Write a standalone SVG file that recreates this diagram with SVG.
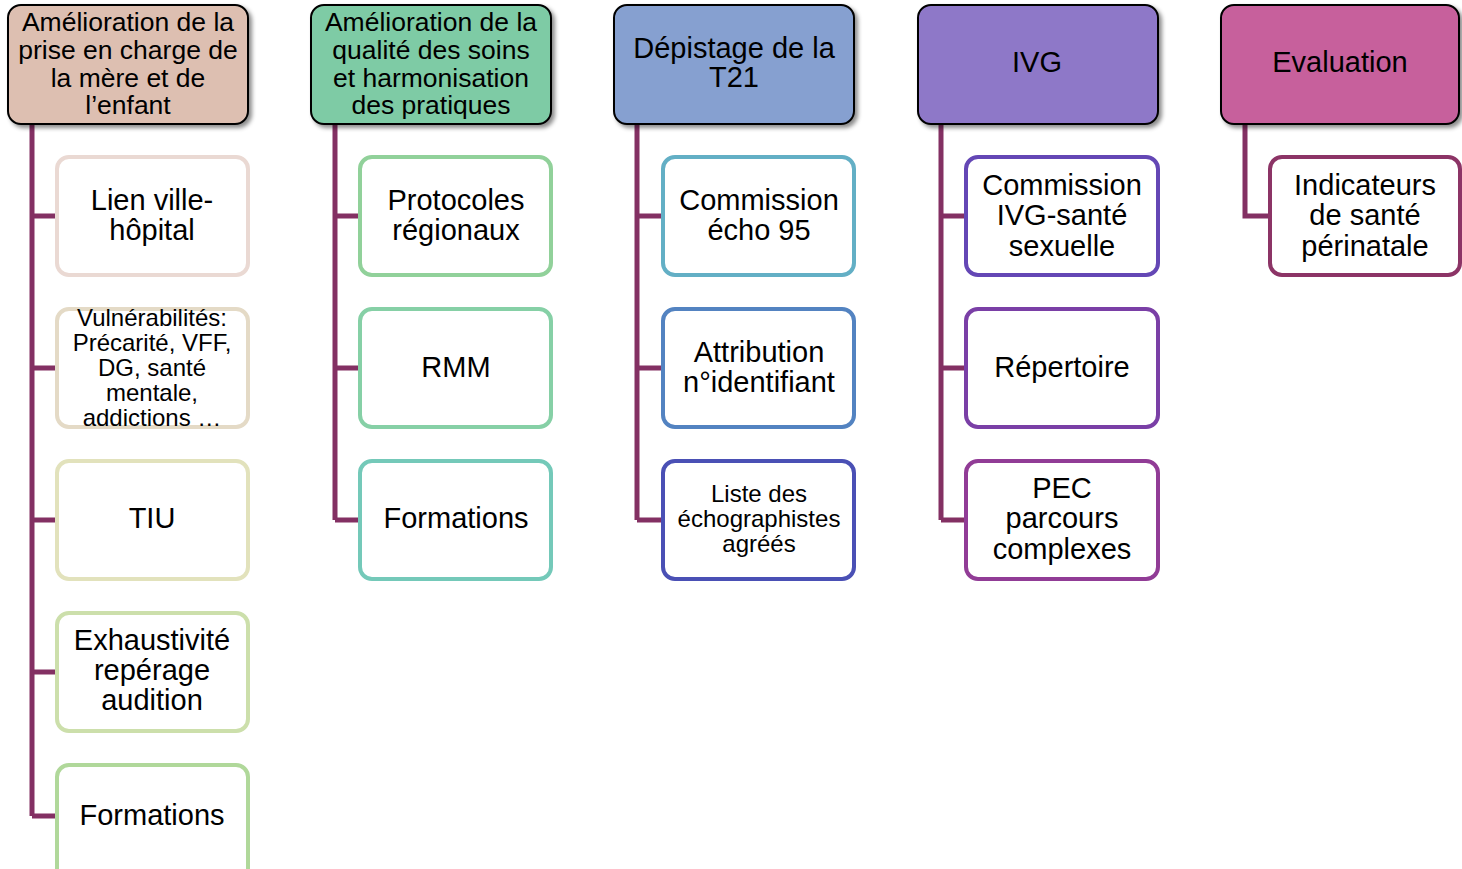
<svg xmlns="http://www.w3.org/2000/svg" width="1462" height="869" viewBox="0 0 1462 869">
<defs>
<filter id="sh" x="-10%" y="-10%" width="125%" height="130%">
<feDropShadow dx="3" dy="3" stdDeviation="2" flood-color="#000" flood-opacity="0.45"/>
</filter>
<style>
.hd{stroke:#000;stroke-width:2;filter:url(#sh)}
.ch{fill:#fff;stroke-width:4}
.cn{fill:none;stroke:#833063;stroke-width:5;stroke-linejoin:miter}
text{font-family:"Liberation Sans",Arial,sans-serif;fill:#000;text-anchor:middle}
.h1{font-size:26.5px}
.h2{font-size:29px}
.c{font-size:29px}
.s{font-size:24px}
</style>
</defs>
<rect width="1462" height="869" fill="#fff"/>
<g id="connectors">
<path class="cn" d="M32 125 V816 M32 216 H55 M32 368 H55 M32 520 H55 M32 672 H55 M32 816 H55"/>
<path class="cn" d="M335 125 V520 M335 216 H358 M335 368 H358 M335 520 H358"/>
<path class="cn" d="M637 125 V520 M637 216 H661 M637 368 H661 M637 520 H661"/>
<path class="cn" d="M941 125 V520 M941 216 H964 M941 368 H964 M941 520 H964"/>
<path class="cn" d="M1245 125 V216 H1268"/>
</g>
<g id="h1"><rect class="hd" x="8" y="5" width="240" height="119" rx="13" fill="#DDBFB1"/>
<text class="h1"><tspan x="128" y="31">Amélioration de la</tspan><tspan x="128" y="59">prise en charge de</tspan><tspan x="128" y="87">la mère et de</tspan><tspan x="128" y="114">l’enfant</tspan></text></g>
<g id="h2"><rect class="hd" x="311" y="5" width="240" height="119" rx="13" fill="#7ECBA5"/>
<text class="h1"><tspan x="431" y="31">Amélioration de la</tspan><tspan x="431" y="59">qualité des soins</tspan><tspan x="431" y="87">et harmonisation</tspan><tspan x="431" y="114">des pratiques</tspan></text></g>
<g id="h3"><rect class="hd" x="614" y="5" width="240" height="119" rx="13" fill="#86A0D0"/>
<text class="h2"><tspan x="734" y="58">Dépistage de la</tspan><tspan x="734" y="87">T21</tspan></text></g>
<g id="h4"><rect class="hd" x="918" y="5" width="240" height="119" rx="13" fill="#8E78C8"/>
<text class="h2"><tspan x="1037" y="72">IVG</tspan></text></g>
<g id="h5"><rect class="hd" x="1221" y="5" width="238" height="119" rx="13" fill="#C7609C"/>
<text class="h2"><tspan x="1340" y="72">Evaluation</tspan></text></g>

<g id="c1a"><rect class="ch" x="57" y="157" width="191" height="118" rx="12" stroke="#EAD9D3"/>
<text class="c"><tspan x="152" y="210">Lien ville-</tspan><tspan x="152" y="240">hôpital</tspan></text></g>
<g id="c1b"><rect class="ch" x="57" y="309" width="191" height="118" rx="12" stroke="#E4DAC6"/>
<text class="s"><tspan x="152" y="326">Vulnérabilités:</tspan><tspan x="152" y="351">Précarité, VFF,</tspan><tspan x="152" y="376">DG, santé</tspan><tspan x="152" y="401">mentale,</tspan><tspan x="152" y="426">addictions …</tspan></text></g>
<g id="c1c"><rect class="ch" x="57" y="461" width="191" height="118" rx="12" stroke="#E2E2BC"/>
<text class="c"><tspan x="152" y="528">TIU</tspan></text></g>
<g id="c1d"><rect class="ch" x="57" y="613" width="191" height="118" rx="12" stroke="#CCDFAB"/>
<text class="c"><tspan x="152" y="650">Exhaustivité</tspan><tspan x="152" y="680">repérage</tspan><tspan x="152" y="710">audition</tspan></text></g>
<g id="c1e"><rect class="ch" x="57" y="765" width="191" height="118" rx="12" stroke="#B0D89A"/>
<text class="c"><tspan x="152" y="825">Formations</tspan></text></g>

<g id="c2a"><rect class="ch" x="360" y="157" width="191" height="118" rx="12" stroke="#91D19A"/>
<text class="c"><tspan x="456" y="210">Protocoles</tspan><tspan x="456" y="240">régionaux</tspan></text></g>
<g id="c2b"><rect class="ch" x="360" y="309" width="191" height="118" rx="12" stroke="#86D0A6"/>
<text class="c"><tspan x="456" y="377">RMM</tspan></text></g>
<g id="c2c"><rect class="ch" x="360" y="461" width="191" height="118" rx="12" stroke="#74C9B9"/>
<text class="c"><tspan x="456" y="528">Formations</tspan></text></g>

<g id="c3a"><rect class="ch" x="663" y="157" width="191" height="118" rx="12" stroke="#63AFC5"/>
<text class="c"><tspan x="759" y="210">Commission</tspan><tspan x="759" y="240">écho 95</tspan></text></g>
<g id="c3b"><rect class="ch" x="663" y="309" width="191" height="118" rx="12" stroke="#5383C1"/>
<text class="c"><tspan x="759" y="362">Attribution</tspan><tspan x="759" y="392">n°identifiant</tspan></text></g>
<g id="c3c"><rect class="ch" x="663" y="461" width="191" height="118" rx="12" stroke="#4A50B5"/>
<text class="s"><tspan x="759" y="502">Liste des</tspan><tspan x="759" y="527">échographistes</tspan><tspan x="759" y="552">agréés</tspan></text></g>

<g id="c4a"><rect class="ch" x="966" y="157" width="192" height="118" rx="12" stroke="#6447B5"/>
<text class="c"><tspan x="1062" y="195">Commission</tspan><tspan x="1062" y="225">IVG-santé</tspan><tspan x="1062" y="256">sexuelle</tspan></text></g>
<g id="c4b"><rect class="ch" x="966" y="309" width="192" height="118" rx="12" stroke="#7A3FA6"/>
<text class="c"><tspan x="1062" y="377">Répertoire</tspan></text></g>
<g id="c4c"><rect class="ch" x="966" y="461" width="192" height="118" rx="12" stroke="#913C96"/>
<text class="c"><tspan x="1062" y="498">PEC</tspan><tspan x="1062" y="528">parcours</tspan><tspan x="1062" y="559">complexes</tspan></text></g>

<g id="c5a"><rect class="ch" x="1270" y="157" width="190" height="118" rx="12" stroke="#8C3466"/>
<text class="c"><tspan x="1365" y="195">Indicateurs</tspan><tspan x="1365" y="225">de santé</tspan><tspan x="1365" y="256">périnatale</tspan></text></g>
</svg>
